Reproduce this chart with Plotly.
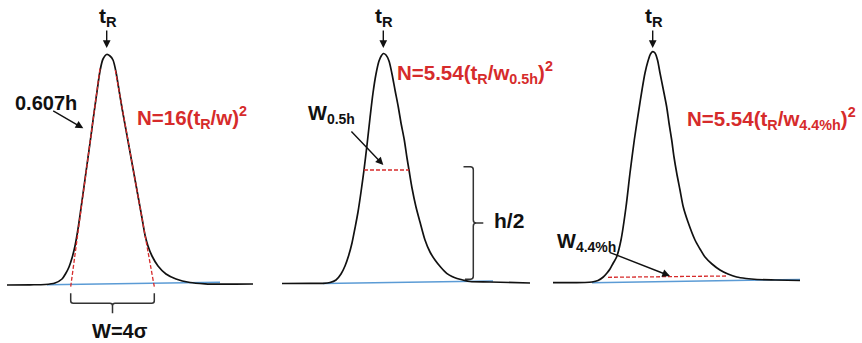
import plotly.graph_objects as go

# ---------------- data (time, signal) ----------------
peak1_time = [7, 30, 45, 55, 62, 66, 69, 72, 75, 78, 82, 86, 90, 94, 97.5, 100, 103, 106.7, 110, 113, 116, 118,
              122, 126, 130, 134, 138, 142, 145, 148, 152, 158, 166, 176, 190, 205, 220, 253]
peak1_signal = [0, 0.2, 0.5, 2, 6, 12, 18, 27, 39, 56, 84, 113, 142, 172, 197, 214, 226, 230.5, 229, 225, 213, 201,
                177, 155, 133, 111, 89, 67, 50, 39, 29, 19, 11, 6, 2.5, 1.2, 0.8, 1]

peak2_time = [282, 310, 323, 330, 336, 341, 345, 348.5, 352, 355, 358, 361, 364, 367, 370, 373, 376, 379, 381.5,
              383.3, 386, 389, 392, 395, 398.3, 401, 404.3, 407, 409, 412, 416, 420, 425, 430, 435, 441, 446.7,
              452, 457, 463, 470, 490, 530]
peak2_signal = [1.5, 1.6, 1.7, 2.5, 5, 11, 19, 29, 42, 57, 73, 93, 115, 140, 167, 192, 211, 224, 229.5,
                231.5, 230, 224, 211, 195, 178, 162, 145, 127, 115, 97, 78, 63, 45, 33, 25, 17.5, 11.7,
                8.5, 6.5, 5, 3.5, 3, 2]

peak3_time = [553, 570, 585, 592, 598, 603.3, 607, 610, 613, 616.7, 621, 626, 630, 634.3, 639.3, 642, 645, 648,
              650.5, 652.7, 655, 657.5, 660, 663, 666.7, 669, 671.7, 674, 676.7, 680, 683.3, 688, 695, 700, 705,
              712, 720, 728, 736.7, 746, 757, 775, 800]
peak3_signal = [2.3, 2.3, 2.5, 3, 4.5, 8, 12, 16, 21.5, 28.3, 45, 78, 112, 145, 178, 195, 212, 224,
                231, 233.3, 232, 225, 212, 197, 178, 162, 145, 128, 112, 95, 78, 63, 45, 36, 28,
                21, 15, 11, 8, 6.5, 5.5, 5, 4.5]

# baselines (blue)
base1_time, base1_signal = [47, 220], [0.2, 2.7]
base2_time, base2_signal = [323, 493], [1.5, 4.0]
base3_time, base3_signal = [592, 800], [2.3, 5.5]

# tangents at 0.607h (panel 1)
tanL_time, tanL_signal = [70.7, 100], [-1.7, 216.7]
tanR_time, tanR_signal = [154.3, 115], [-1.7, 216.7]

# width at half height (panel 2) and at 4.4 % height (panel 3)
half_time, half_signal = [364, 409], [115, 115]
w44_time, w44_signal = [608, 727], [7.7, 9]

# retention times (apex positions)
tR_times = [106.7, 383.3, 652.7]
apex_signals = [230.5, 231.5, 233.3]

# ---------------- figure ----------------
BLACK = "#111111"
RED = "#d62b2b"
BLUE = "#5b9bd5"
fig = go.Figure()


def line(x, y, color, width, dash="solid"):
    fig.add_trace(go.Scatter(x=x, y=y, mode="lines", hoverinfo="skip",
                             line=dict(color=color, width=width, dash=dash, shape="linear")))


line(base1_time, base1_signal, BLUE, 1.5)
line(base2_time, base2_signal, BLUE, 1.5)
line(base3_time, base3_signal, BLUE, 1.5)
for t, s in [(peak1_time, peak1_signal), (peak2_time, peak2_signal), (peak3_time, peak3_signal)]:
    fig.add_trace(go.Scatter(x=t, y=s, mode="lines", hoverinfo="skip",
                             line=dict(color=BLACK, width=1.7, shape="spline", smoothing=0.8)))
line(tanL_time, tanL_signal, RED, 1.3, "4px,2px")
line(tanR_time, tanR_signal, RED, 1.3, "4px,2px")
line(half_time, half_signal, RED, 1.3, "4px,2px")
line(w44_time, w44_signal, RED, 1.3, "4px,2px")

# brace under panel 1 (W = 4 sigma) between tangent intercepts
xl, xr = tanL_time[0], tanR_time[0]
xm = (xl + xr) / 2
yt, yb, yc = -8.3, -18.3, -28.3
r = 2.5
fig.add_shape(type="path", xref="x", yref="y", line=dict(color="#333333", width=1.5),
              path=(f"M {xl},{yt} L {xl},{yb + r} Q {xl},{yb} {xl + r},{yb} L {xm - r},{yb} "
                    f"Q {xm},{yb} {xm},{yb - r} L {xm},{yc} M {xm},{yb - r} Q {xm},{yb} {xm + r},{yb} "
                    f"L {xr - r},{yb} Q {xr},{yb} {xr},{yb + r} L {xr},{yt}"))

# brace for h/2 (panel 2)
bx, bt, bb = 473.3, 118.3, 5.7
bm = (bt + bb) / 2
fig.add_shape(type="path", xref="x", yref="y", line=dict(color="#333333", width=1.5),
              path=(f"M 463.5,{bt} L {bx - 3},{bt} Q {bx},{bt} {bx},{bt - 3} L {bx},{bm + 3} "
                    f"Q {bx},{bm} {bx + 3},{bm} L {bx + 10},{bm} M {bx + 3},{bm} Q {bx},{bm} {bx},{bm - 3} "
                    f"L {bx},{bb + 3} Q {bx},{bb} {bx - 3},{bb} L 465,{bb}"))

FONT = "Liberation Sans, Arial, sans-serif"


def label(x, y, text, color=BLACK, size=20, xanchor="center"):
    fig.add_annotation(x=x, y=y, xref="x", yref="y", text=f"<b>{text}</b>", showarrow=False,
                       xanchor=xanchor, yanchor="middle", font=dict(family=FONT, size=size, color=color))


def arrow(x0, y0, x1, y1):
    fig.add_annotation(x=x1, y=y1, ax=x0, ay=y0, xref="x", yref="y", axref="x", ayref="y", text="",
                       showarrow=True, arrowhead=2, arrowsize=1.1, arrowwidth=1.4, arrowcolor=BLACK,
                       standoff=0, startstandoff=0)


# t_R labels with down arrows
for t in tR_times:
    label(t + 1, 268, "t<sub>R</sub>", size=21)
    arrow(t, 256, t, 237)

# panel 1
label(13, 182, "0.607h", xanchor="left", size=20)
arrow(51.7, 175, 83.3, 156.7)
label(135, 168, "N=16(t<sub>R</sub>/w)<sup>2</sup>", color=RED, xanchor="left", size=20.5)
label(120, -46, "W=4σ", size=20)

# panel 2
label(395, 213, "N=5.54(t<sub>R</sub>/w<sub>0.5h</sub>)<sup>2</sup>", color=RED, xanchor="left", size=20.5)
label(306, 171, "W<sub>0.5h</sub>", xanchor="left", size=20)
arrow(350, 155, 383.3, 120)
label(492, 65, "h/2", xanchor="left", size=21)

# panel 3
label(685, 167, "N=5.54(t<sub>R</sub>/w<sub>4.4%h</sub>)<sup>2</sup>", color=RED, xanchor="left", size=20.5)
label(555, 43, "W<sub>4.4%h</sub>", xanchor="left", size=20)
arrow(608, 33.3, 670, 9)

fig.update_layout(width=862, height=343, margin=dict(l=0, r=0, t=0, b=0),
                  paper_bgcolor="white", plot_bgcolor="white", showlegend=False,
                  xaxis=dict(range=[0, 862], visible=False, fixedrange=True),
                  yaxis=dict(range=[-58, 285], visible=False, fixedrange=True))

fig.write_html("out.html", config={"displayModeBar": False},
               post_script="document.body.style.margin='0px';document.body.style.overflow='hidden';")
